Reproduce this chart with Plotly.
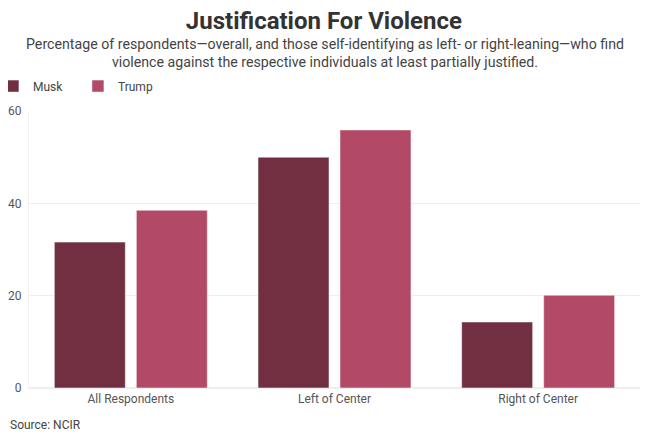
import plotly.graph_objects as go

categories = ["All Respondents", "Left of Center", "Right of Center"]
musk = [31.6, 50.0, 14.3]
trump = [38.5, 55.9, 20.1]
y_ticks = [0, 20, 40, 60]

FONT = "Roboto"

fig = go.Figure()
fig.add_trace(go.Bar(name="Musk", x=categories, y=musk,
                     marker=dict(color="#722F41", line=dict(color="rgba(255,255,255,0.5)", width=1))))
fig.add_trace(go.Bar(name="Trump", x=categories, y=trump,
                     marker=dict(color="#B24A67", line=dict(color="rgba(255,255,255,0.5)", width=1))))

fig.update_layout(
    width=650, height=439,
    margin=dict(l=21, r=18, t=103, b=59, autoexpand=False),
    paper_bgcolor="white", plot_bgcolor="white",
    barmode="group", bargap=0.195, bargroupgap=0.134,
    font=dict(family=FONT, color="#555"),
    title=dict(text="<b>Justification For Violence</b>", x=0.486, xanchor="center",
               y=0.972, yanchor="middle", font=dict(size=24, color="#333", family=FONT)),
    showlegend=True,
    legend=dict(orientation="h", xref="paper", yref="paper", x=-0.059, y=1.09,
                xanchor="left", yanchor="middle", font=dict(size=12, color="#444"),
                itemwidth=30, entrywidth=40, traceorder="normal", bgcolor="rgba(0,0,0,0)"),
    xaxis=dict(showgrid=False, ticks="", tickfont=dict(size=12, color="#555"),
               showline=True, linecolor="#eeeeee", linewidth=1, automargin=False),
    yaxis=dict(range=[0, 60], tickvals=y_ticks, showgrid=True, gridcolor="#eeeeee",
               zeroline=True, zerolinecolor="#eeeeee", tickfont=dict(size=12, color="#555"),
               showline=True, linecolor="#f2f2f2", ticks="", automargin=False,
               ticklabelstandoff=4),
)

fig.add_annotation(text="Percentage of respondents\u2014overall, and those self-identifying as left- or right-leaning\u2014who find<br>violence against the respective individuals at least partially justified.",
                   xref="paper", yref="paper", x=0.484, y=1.209, xanchor="center", yanchor="middle",
                   showarrow=False, font=dict(size=14.2, color="#444", family=FONT), align="center")
fig.add_annotation(text="Source: NCIR", xref="paper", yref="paper", x=-0.0344, y=-0.134,
                   xanchor="left", yanchor="middle", showarrow=False,
                   font=dict(size=12, color="#444", family=FONT))

fig.write_html("out.html")
